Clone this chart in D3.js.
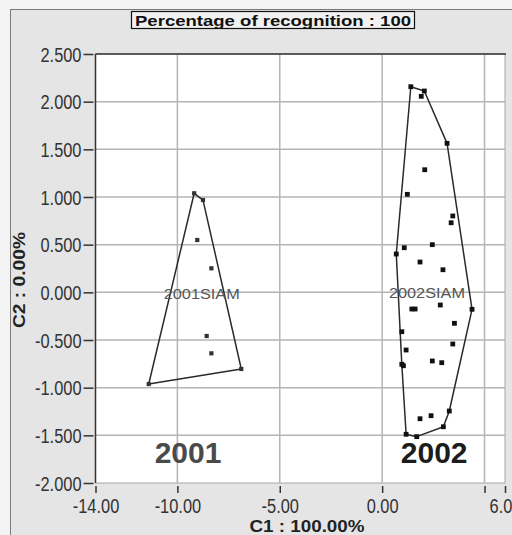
<!DOCTYPE html>
<html>
<head>
<meta charset="utf-8">
<script src="https://cdn.jsdelivr.net/npm/d3@7"></script>
<style>
  html, body { margin: 0; padding: 0; background: #f3f3f3; }
  svg { display: block; }
  text { font-family: "Liberation Sans", Arial, sans-serif; }
</style>
</head>
<body>
<svg id="chart" width="512" height="535"></svg>
<script>
// Discriminant scores (C1, C2) per sample, grouped by year
const group2001X = [-9.18, -8.75, -9.03, -8.34, -8.57, -8.34, -6.88, -11.40];
const group2001Y = [1.039, 0.968, 0.549, 0.252, -0.458, -0.640, -0.804, -0.962];

const group2002X = [1.40, 2.06, 1.91, 3.17, 2.08, 1.23, 3.45, 3.37, 1.08, 2.45, 0.69,
                    1.85, 2.97, 1.45, 1.61, 2.84, 4.39, 3.53, 0.96, 3.45, 1.17, 2.45,
                    2.91, 0.96, 1.04, 3.28, 1.85, 2.39, 2.99, 1.17, 1.69];
const group2002Y = [2.157, 2.112, 2.056, 1.563, 1.286, 1.028, 0.801, 0.730, 0.468, 0.500, 0.402,
                    0.318, 0.237, -0.175, -0.175, -0.133, -0.178, -0.325, -0.413, -0.542, -0.605, -0.720,
                    -0.738, -0.755, -0.770, -1.245, -1.326, -1.294, -1.410, -1.489, -1.514];

const groupNames = ["2001SIAM", "2002SIAM"];
const yearLabels = ["2001", "2002"];

const xTickValues = [-14, -10, -5, 0, 5, 6];
const xTickLabels = ["-14.00", "-10.00", "-5.00", "0.00", "", "6.00"];
const yTickValues = [-2, -1.5, -1, -0.5, 0, 0.5, 1, 1.5, 2, 2.5];
const yTickLabels = ["-2.000", "-1.500", "-1.000", "-0.500", "0.000", "0.500", "1.000", "1.500", "2.000", "2.500"];
const xGridValues = [-10, -5, 0, 5];
const yGridValues = [-1.5, -1, -0.5, 0, 0.5, 1, 1.5, 2];

const titleText = "Percentage of recognition : 100";
const xTitle = "C1 : 100.00%";
const yTitle = "C2 : 0.00%";

const svg = d3.select("#chart");
const plot = { left: 95.5, right: 505, top: 54, bottom: 483 };

const x = d3.scaleLinear().domain([-14, 6]).range([plot.left, plot.right]);
const y = d3.scaleLinear().domain([-2, 2.5]).range([plot.bottom, plot.top]);

// Outer frame and panel
svg.append("rect").attr("x", 10.5).attr("y", 9.5).attr("width", 520).attr("height", 540)
  .attr("fill", "#e5e5e5").attr("stroke", "#7a7a7a").attr("stroke-width", 1);

// Title box
svg.append("rect").attr("x", 131.5).attr("y", 11.5).attr("width", 283).attr("height", 17)
  .attr("fill", "#f1f1f1").attr("stroke", "#111").attr("stroke-width", 1.2);
svg.append("text").attr("x", 273).attr("y", 25.5).attr("text-anchor", "middle")
  .attr("font-size", 15).attr("font-weight", "bold").attr("fill", "#111")
  .attr("textLength", 276).attr("lengthAdjust", "spacingAndGlyphs")
  .text(titleText);

// Plot area
svg.append("rect").attr("x", plot.left).attr("y", plot.top)
  .attr("width", plot.right - plot.left).attr("height", plot.bottom - plot.top)
  .attr("fill", "#fff").attr("stroke", "#a8a8a8").attr("stroke-width", 1);

// Grid
const grid = svg.append("g").attr("stroke", "#b4b4b4").attr("stroke-width", 1.5);
grid.selectAll("line.v").data(xGridValues).join("line").attr("class", "v")
  .attr("x1", d => x(d)).attr("x2", d => x(d)).attr("y1", plot.top).attr("y2", plot.bottom);
grid.selectAll("line.h").data(yGridValues).join("line").attr("class", "h")
  .attr("x1", plot.left).attr("x2", plot.right).attr("y1", d => y(d)).attr("y2", d => y(d));

// Dark top and left borders
svg.append("line").attr("x1", plot.left).attr("x2", plot.right + 1).attr("y1", plot.top).attr("y2", plot.top)
  .attr("stroke", "#333").attr("stroke-width", 1.5);
svg.append("line").attr("x1", plot.left).attr("x2", plot.left).attr("y1", plot.top).attr("y2", plot.bottom)
  .attr("stroke", "#333").attr("stroke-width", 1.5);

// Axes (narrowed tick font)
const narrow = sel => sel.each(function () {
  const w = this.getComputedTextLength();
  if (w > 0) d3.select(this).attr("textLength", w * 0.82).attr("lengthAdjust", "spacingAndGlyphs");
});

const xAxis = svg.append("g").attr("transform", `translate(0,${plot.bottom + 3})`)
  .call(d3.axisBottom(x).tickValues(xTickValues)
    .tickFormat((d, i) => xTickLabels[i]).tickSize(7).tickPadding(6));
xAxis.select(".domain").remove();
xAxis.selectAll("line").attr("stroke", "#333").attr("stroke-width", 1.5);
xAxis.selectAll("text").attr("font-size", 20).attr("font-family", "Liberation Sans, Arial, sans-serif")
  .attr("fill", "#333").call(narrow);

const yAxis = svg.append("g").attr("transform", `translate(${plot.left - 2},0)`)
  .call(d3.axisLeft(y).tickValues(yTickValues)
    .tickFormat((d, i) => yTickLabels[i]).tickSize(10).tickPadding(2));
yAxis.select(".domain").remove();
yAxis.selectAll("line").attr("stroke", "#333").attr("stroke-width", 1.5);
yAxis.selectAll("text").attr("font-size", 20).attr("font-family", "Liberation Sans, Arial, sans-serif")
  .attr("fill", "#333").attr("dy", "0.36em").call(narrow);

// Axis titles
svg.append("text").attr("x", 307).attr("y", 532).attr("text-anchor", "middle")
  .attr("font-size", 16).attr("font-weight", "bold").attr("fill", "#222")
  .attr("textLength", 115).attr("lengthAdjust", "spacingAndGlyphs").text(xTitle);
svg.append("text").attr("transform", "translate(25,280) rotate(-90)").attr("text-anchor", "middle")
  .attr("font-size", 17).attr("font-weight", "bold").attr("fill", "#222")
  .attr("textLength", 96).attr("lengthAdjust", "spacingAndGlyphs").text(yTitle);

// Groups: hull, points, centroid label, year label
const groups = [
  { xs: group2001X, ys: group2001Y, name: groupNames[0], year: yearLabels[0], yearColor: "#4a4a4a", pt: "#333", size: 4.2 },
  { xs: group2002X, ys: group2002Y, name: groupNames[1], year: yearLabels[1], yearColor: "#1c1c1c", pt: "#111", size: 4.8 }
];

svg.append("clipPath").attr("id", "plotclip").append("rect")
  .attr("x", plot.left).attr("y", plot.top).attr("width", plot.right - plot.left).attr("height", plot.bottom - plot.top);
const layer = svg.append("g").attr("clip-path", "url(#plotclip)");

groups.forEach(g => {
  const pts = g.xs.map((v, i) => [x(v), y(g.ys[i])]);
  const hull = d3.polygonHull(pts);
  layer.append("path").attr("d", "M" + hull.join("L") + "Z")
    .attr("fill", "none").attr("stroke", "#2a2a2a").attr("stroke-width", 1.5).attr("stroke-linejoin", "round");
  layer.selectAll(null).data(pts).join("rect")
    .attr("x", d => d[0] - g.size / 2).attr("y", d => d[1] - g.size / 2)
    .attr("width", g.size).attr("height", g.size)
    .attr("fill", g.pt);
  const cx = x(d3.mean(g.xs)), cy = y(d3.mean(g.ys));
  layer.append("text").attr("x", cx).attr("y", cy + 5.5).attr("text-anchor", "middle")
    .attr("font-size", 15).attr("fill", "#555")
    .attr("textLength", 76).attr("lengthAdjust", "spacingAndGlyphs").text(g.name);
  layer.append("text").attr("x", d3.mean(d3.extent(pts, p => p[0])) + (g.year === "2001" ? -7 : 0)).attr("y", 463)
    .attr("text-anchor", "middle").attr("font-size", 30).attr("font-weight", "bold")
    .attr("fill", g.yearColor).text(g.year);
});
</script>
</body>
</html>
